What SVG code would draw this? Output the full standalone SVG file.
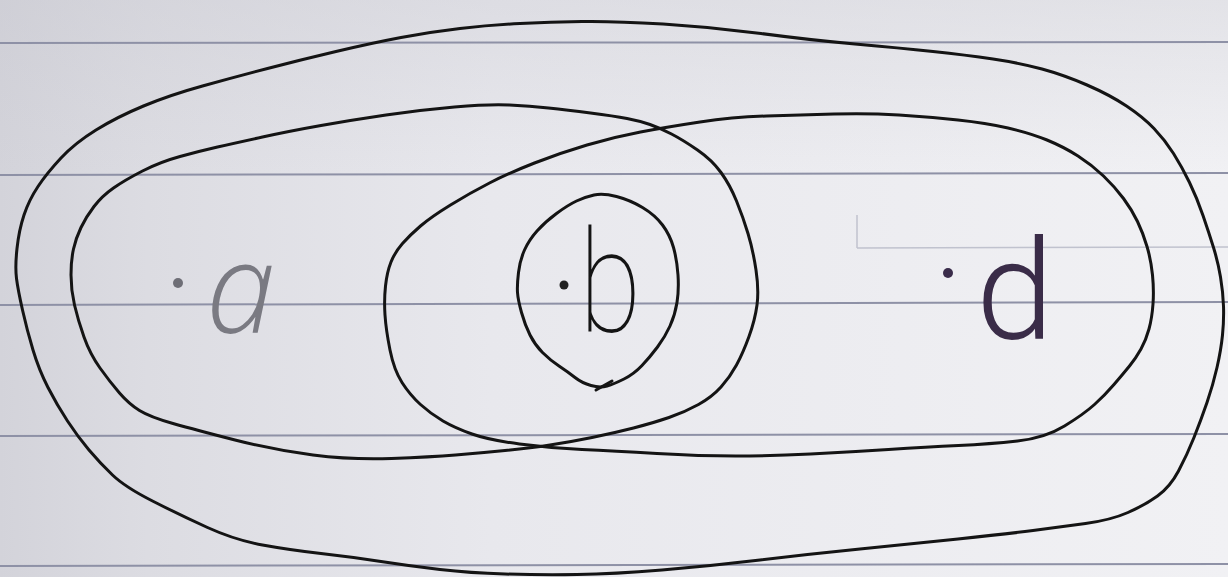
<svg xmlns="http://www.w3.org/2000/svg" width="1228" height="577" viewBox="0 0 1228 577">
  <defs>
    <linearGradient id="paper" x1="0" y1="0" x2="1" y2="0">
      <stop offset="0" stop-color="#d3d3da"/>
      <stop offset="0.12" stop-color="#dcdce2"/>
      <stop offset="0.4" stop-color="#e8e8ed"/>
      <stop offset="1" stop-color="#f1f1f4"/>
    </linearGradient>
    <linearGradient id="shade" x1="0" y1="0" x2="0" y2="1">
      <stop offset="0" stop-color="#c8c8d0" stop-opacity="0.35"/>
      <stop offset="0.3" stop-color="#c8c8d0" stop-opacity="0"/>
    </linearGradient>
  </defs>
  <style>
    .rule { stroke: #8e91a6; stroke-width: 2; fill: none; }
    .ghost { stroke: #c0c2ce; stroke-width: 1.5; fill: none; }
    .loop { fill: none; stroke: #141414; stroke-width: 3; stroke-linejoin: round; stroke-linecap: round; }
    .pt { stroke: none; }
  </style>

  <g id="paper-bg">
    <rect x="0" y="0" width="1228" height="577" fill="url(#paper)"/>
    <rect x="0" y="0" width="1228" height="577" fill="url(#shade)"/>
    <line class="rule" x1="0" y1="43" x2="1228" y2="42"/>
    <line class="rule" x1="0" y1="175" x2="1228" y2="173"/>
    <line class="rule" x1="0" y1="305" x2="1228" y2="302"/>
    <line class="rule" x1="0" y1="436" x2="1228" y2="434"/>
    <line class="rule" x1="0" y1="566" x2="1228" y2="564"/>
    <line class="ghost" x1="857" y1="248" x2="1228" y2="247"/>
    <line class="ghost" x1="857" y1="215" x2="857" y2="248"/>
  </g>

  <g id="set-outer">
    <path class="loop" d="M582,21.5 Q614,21 663,24 T761,33.5 T855,44 T933,51.5 T993,59 T1042,69 T1087,85 T1126.5,106 T1154,128.5 T1173.5,153.5 T1189.5,182.5 T1203,215.5 T1213.5,247.5 T1220.5,277 T1223.5,306 T1222.5,335 T1217,367.5 T1207,402.5 T1194,437.5 T1178.5,471 T1157.5,496 T1128,512.5 T1085.5,523.5 T1033,530.5 T958,539 T860,549 T760,560 T662,570 T577,574.5 T505,574 T440,569.5 T381,561.5 T321,553.5 T262.5,545 T207.5,527.5 T152.5,501 T112.5,475 T89,450 T67.5,421 T48,387.5 T33,350 T22.5,310 T16.5,278.5 T17,248.5 T24,215 T38,186.5 T61,158 T96,130 T143.5,106 T202.5,86 T267.5,68.5 T336,51.5 T401,37.5 T460,28.5 T520,23.5 T582,21.5 Z"/>
  </g>

  <g id="set-left">
    <path class="loop" d="M454.5,107 Q489,104 509.5,105 T548.5,108 T590.5,113 T627,118.5 T650,124.5 T671.5,134 T697.5,150 T721,172.5 T736.5,201 T748,233.5 T756,270 T757,305 T749,336.5 T736.5,365 T721,387 T698.5,404.5 T669,417.5 T633.5,428 T592,437.5 T550,445 T505,450.5 T455.5,455 T391.5,458.5 T313,455 T235,440 T173,423.5 T139.5,410.5 T119.5,393 T100,368 T84,337 T74.5,305 T71,275 T73.5,249 T81,227.5 T94,206.5 T113.5,188 T142.5,171 T180,156.5 T217.5,147 T262.5,137 T321,125.5 T386,115 T454.5,107 Z"/>
  </g>

  <g id="set-right">
    <path class="loop" d="M640.5,132 Q667,127 700,122 T766.5,116 T834,114 T899,115 T958,120 T1008,128 T1047,140 T1078,156 T1103.5,176 T1123.5,198.5 T1137.5,221.5 T1147,246.5 T1152.5,275 T1153,304 T1149,329 T1141,349 T1129.5,366 T1114,384.5 T1094.5,404.5 T1064.5,426 T1017.5,441 T958.5,445.5 T888.5,449.5 T810.5,454 T735.5,456 T657,453.5 T582,449.5 T519.5,444 T472,434 T443,421 T420.5,404.5 T402,382.5 T390,350 T385,315 T385.5,286 T391,262 T402.5,243.5 T420.5,226 T450.5,205 T489.5,183 T534.5,163 T587,145 T640.5,132 Z"/>
  </g>

  <g id="set-b">
    <path class="loop" d="M594,195 Q603,193 616.5,196.5 T642.5,207.5 T662.5,225 T673.5,247.5 T678,275 T677,302.5 T670,326 T657.5,347 T642,365.5 T624,379 T607,386 T591,385.5 T575,377.5 T559,366 T542.5,352.5 T530,335 T521.5,312.5 T517.5,292.5 T518.5,272.5 T524.5,250 T537,231 T556.5,213.5 T576.5,201 T594,195 Z"/>
    <path class="loop" d="M596,390 L612,381"/>
  </g>

  <g id="point-a">
    <circle class="pt" cx="178" cy="283" r="5" fill="#6e6e76"/>
    <text x="206" y="333" font-family="'Open Sans', 'Noto Sans', sans-serif" font-style="italic" font-weight="300" font-size="125" fill="#7a7a82">a</text>
  </g>

  <g id="point-b">
    <circle class="pt" cx="564" cy="285" r="4.5" fill="#222"/>
    <text transform="translate(579,332) scale(0.8,1)" font-family="Roboto, Inter, sans-serif" font-weight="100" font-size="142" fill="#141414">b</text>
  </g>

  <g id="point-d">
    <circle class="pt" cx="948" cy="273" r="5" fill="#3a2c4a"/>
    <text x="976" y="339" font-family="Roboto, Inter, sans-serif" font-weight="300" font-size="140" fill="#3a2c48">d</text>
  </g>
</svg>
